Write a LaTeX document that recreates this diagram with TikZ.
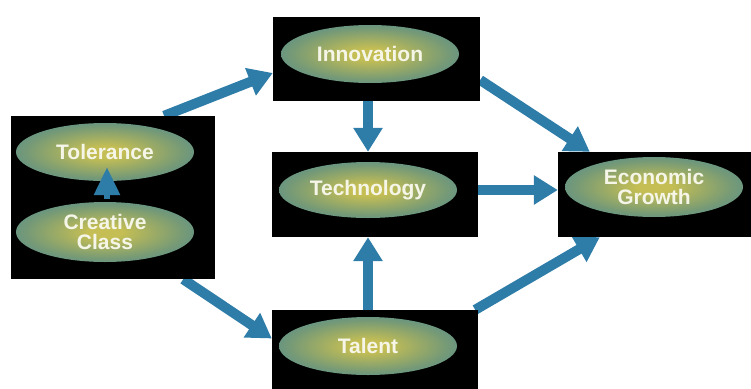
\documentclass[tikz,border=0pt]{standalone}
\usepackage{fontspec}
\setmainfont{Liberation Sans}
\usepackage{tikz}
\usetikzlibrary{calc,positioning,arrows.meta,shapes.geometric}

\definecolor{flowblue}{RGB}{46,124,168}
\definecolor{glowin}{RGB}{196,190,84}
\definecolor{glowmid}{RGB}{118,154,118}
\definecolor{glowout}{RGB}{50,128,172}
\definecolor{labelwhite}{RGB}{246,246,232}

\pgfdeclareradialshading{glow}{\pgfpoint{0bp}{0bp}}{%
  color(0bp)=(glowin); color(5bp)=(glowin); color(22bp)=(glowmid);
  color(40bp)=(glowout); color(50bp)=(glowout)}

\begin{document}
\begin{tikzpicture}[
    x=1pt, y=-1pt,
    align=center,
    panel/.style={rectangle, fill=black, inner sep=0pt},
    factor/.style={ellipse, shading=glow, inner sep=0pt,
      minimum width=178pt, minimum height=58pt,
      font=\bfseries\fontsize{21}{20.5}\selectfont, text=labelwhite},
    flow/.style={-{Triangle[length=24pt,width=28pt]}, line width=10pt, flowblue},
    inner/.style={-{Triangle[length=28pt,width=25pt]}, line width=6pt, flowblue},
  ]

  \pgfdeclarelayer{background}
  \pgfdeclarelayer{main}
  \pgfdeclarelayer{foreground}
  \pgfsetlayers{background,main,foreground}

  \useasboundingbox (0,0) rectangle (751,388);

  % black panels
  \begin{pgfonlayer}{main}
    \node (innov)   [panel, minimum width=207pt, minimum height=84pt] at (376.5,59)  {};
    \node (tech)    [panel, minimum width=206pt, minimum height=85pt] at (375,194.5) {};
    \node (talent)  [panel, minimum width=206pt, minimum height=85pt] at (375,352.5) {};
    \node (left)    [panel, minimum width=204pt, minimum height=163pt] at (113,197.5) {};
    \node (econ)    [panel, minimum width=194pt, minimum height=85pt] at (655,194.5) {};
  \end{pgfonlayer}

  % factors
  \begin{pgfonlayer}{main}
    \node (innovell)  [factor] at (370,54)  {Innovation};
    \node (techell)   [factor, minimum height=56pt] at (368,190) {Technology};
    \node (talentell) [factor] at (368,346) {Talent};
    \node (econell)   [factor, minimum height=60pt] at (654,187) {Economic\\Growth};
    \node (tolell)    [factor] at (105,152) {Tolerance};
    \node (createll)  [factor, minimum height=60pt] at (105,232) {Creative\\Class};
  \end{pgfonlayer}

  % flow
  \begin{pgfonlayer}{background}
    \draw[flow] ($(left.north)!0.5!(left.north east)$) -- ($(innov.west)+(0,14)$);
    \draw[flow] ($(left.south east)+(-32,0)$) -- ($(talent.west)+(0,-14)$);
    \draw[flow] (innov.south -| techell) -- (tech.north -| techell);
    \draw[flow] (talent.north -| techell) -- (tech.south -| techell);
    \draw[flow] (tech.east |- techell) -- (econ.west |- techell);
    \draw[flow] ($(innov.east)+(0,21)$) -- ($(econ.north west)+(32,0)$);
    \draw[flow] ($(talent.north east)+(-3,0)$) -- ($(econ.south west)+(42,0)$);
  \end{pgfonlayer}

  \begin{pgfonlayer}{foreground}
    \draw[inner, shorten >=-14pt] ($(createll.north)+(2,-3)$) -- ($(tolell.south)+(2,0)$);
  \end{pgfonlayer}

\end{tikzpicture}
\end{document}
